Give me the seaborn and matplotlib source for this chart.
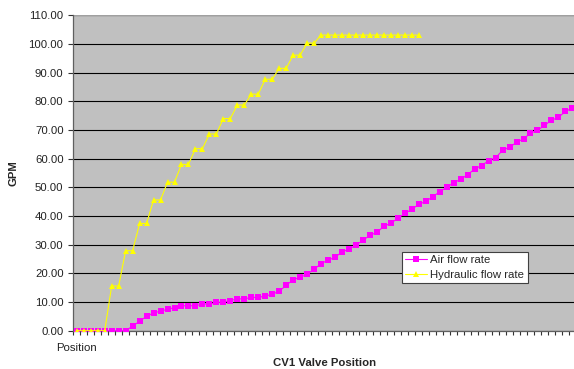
import numpy as np
import pandas as pd
import matplotlib
matplotlib.use("Agg")
import matplotlib.pyplot as plt
import seaborn as sns
from matplotlib.ticker import FixedLocator, FuncFormatter

# ---- data ----
series_names = ["Air flow rate", "Hydraulic flow rate"]
air_flow = [0, 0, 0, 0, 0, 0, 0, 0, 1.6, 3.3,
            5.0, 6.2, 6.8, 7.5, 8.0, 8.7, 8.7, 8.7, 9.3, 9.3,
            9.9, 9.9, 10.5, 11.1, 11.1, 11.6, 11.6, 12.1, 12.7, 13.8,
            15.8, 17.8, 18.6, 19.7, 21.4, 23.4, 24.6, 25.6, 27.5, 28.4,
            29.9, 31.5, 33.3, 34.3, 36.4, 37.5, 39.2, 40.9, 42.3, 44.1,
            45.1, 46.7, 48.5, 50.0, 51.6, 52.8, 54.4, 56.4, 57.6, 59.3,
            60.3, 62.9, 64.0, 65.7, 66.9, 68.9, 69.9, 71.6, 73.4, 74.4,
            76.5, 77.6]
hydraulic_flow = [0, 0, 0, 0, 0, 15.6, 15.6, 27.9, 27.9, 37.4,
                  37.4, 45.6, 45.6, 51.8, 51.8, 58.0, 58.0, 63.5, 63.5, 68.6,
                  68.6, 74.0, 74.0, 78.7, 78.7, 82.5, 82.5, 87.7, 87.7, 91.5,
                  91.5, 96.1, 96.1, 100.3, 100.3, 103.1, 103.1, 103.1, 103.1, 103.1,
                  103.1, 103.1, 103.1, 103.1, 103.1, 103.1, 103.1, 103.1, 103.1, 103.1]
category_labels = ["Position"] + [""] * (len(air_flow) - 1)
y_ticks = [0, 10, 20, 30, 40, 50, 60, 70, 80, 90, 100, 110]

rows = []
for i, v in enumerate(air_flow):
    rows.append({"pos": i, "GPM": v, "series": series_names[0]})
for i, v in enumerate(hydraulic_flow):
    rows.append({"pos": i, "GPM": v, "series": series_names[1]})
df = pd.DataFrame(rows)

# ---- figure ----
sns.set_theme(style="white")
plt.rcParams["font.family"] = ["Liberation Sans", "DejaVu Sans"]
FS = 8.2

W, H = 574, 369
fig = plt.figure(figsize=(W / 100, H / 100), dpi=100)
n = len(category_labels)
spacing = 6.98
left_px, bottom_px, top_px = 73.3, 330.7, 15.3
ax_w = n * spacing
ax = fig.add_axes([left_px / W, (H - bottom_px) / H, ax_w / W, (bottom_px - top_px) / H])
ax.set_facecolor("#C0C0C0")

palette = {"Air flow rate": "#FF00FF", "Hydraulic flow rate": "#FFFF00"}
markers = {"Air flow rate": "s", "Hydraulic flow rate": "^"}
sizes_ms = {"Air flow rate": 4.0, "Hydraulic flow rate": 4.8}
for z, name in enumerate(series_names):
    sub = df[df["series"] == name]
    sns.lineplot(data=sub, x="pos", y="GPM", color=palette[name], marker=markers[name],
                 markersize=sizes_ms[name], markeredgewidth=0, linewidth=0.8,
                 ax=ax, label=name, zorder=3 + z)

ax.set_xlim(-0.5, n - 0.5)
ax.set_ylim(0, 110)
ax.yaxis.set_major_locator(FixedLocator(y_ticks))
ax.yaxis.set_major_formatter(FuncFormatter(lambda v, p: f"{v:.2f}"))
ax.grid(axis="y", color="#000000", linewidth=0.8)
ax.set_axisbelow(True)

ax.set_xticks(range(n))
ax.set_xticklabels(category_labels)
ax.set_xticks(np.arange(n + 1) - 0.5, minor=True)
ax.tick_params(axis="x", which="major", length=0, pad=8.5, labelsize=FS, labelcolor="#222222")
ax.tick_params(axis="x", which="minor", length=3, width=0.8, color="#333333", direction="out", bottom=True)
ax.tick_params(axis="y", which="major", length=3.5, width=0.8, color="#333333", direction="out",
               left=True, pad=3.5, labelsize=FS, labelcolor="#222222")

for s in ["top", "right"]:
    ax.spines[s].set_visible(False)
ax.spines["left"].set_color("#606060")
ax.spines["left"].set_linewidth(0.9)
ax.spines["bottom"].set_color("#606060")
ax.spines["bottom"].set_linewidth(0.9)
ax.axhline(110, color="#A0A0A0", linewidth=1.0, zorder=2)

ax.set_xlabel("")
ax.set_ylabel("GPM", fontsize=FS, fontweight="bold")
ax.yaxis.set_label_coords(-(left_px - 18.3) / ax_w, 0.5)

fig.text(324.5 / W, (H - 363.0) / H, "CV1 Valve Position", ha="center", va="center",
         fontsize=FS, fontweight="bold")

leg = ax.legend(loc="upper left",
                bbox_to_anchor=((401.7 - left_px) / ax_w, (bottom_px - 252) / (bottom_px - top_px)),
                borderaxespad=0, fontsize=FS, frameon=True, fancybox=False, edgecolor="#404040",
                framealpha=1, facecolor="white", handlelength=1.9, handletextpad=0.3,
                labelspacing=0.4, borderpad=0.3)
leg.get_frame().set_linewidth(0.8)

fig.savefig("out.png", dpi=100)
